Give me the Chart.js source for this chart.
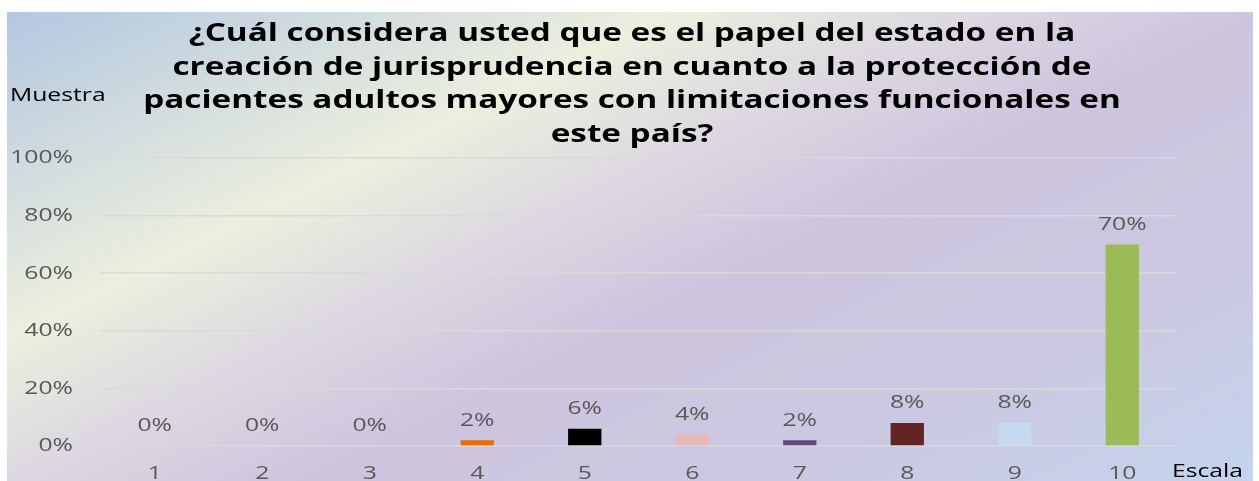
<!DOCTYPE html>
<html lang="es">
<head>
<meta charset="utf-8">
<title>Papel del estado en la creación de jurisprudencia</title>
<script src="https://cdn.jsdelivr.net/npm/chart.js@4/dist/chart.umd.min.js"></script>
<style>
  html, body { margin: 0; padding: 0; background: #ffffff; }
  #wrap { position: absolute; left: 7px; top: 12px; width: 1246px; height: 469px; }
  canvas { display: block; }
</style>
</head>
<body>
<div id="wrap"><canvas id="chart" width="1246" height="469"></canvas></div>
<script>
// Scale points 1-10 and the share of responses for each
const categories = ['1', '2', '3', '4', '5', '6', '7', '8', '9', '10'];
const shares = [0, 0, 0, 2, 6, 4, 2, 8, 8, 70];
const barColors = ['#4f81bd', '#c0504d', '#9bbb59', '#e46c0a', '#000000', '#e6b9b8', '#604a7b', '#632523', '#c6d9f1', '#9bbb59'];
const yTicks = [0, 20, 40, 60, 80, 100];
const titleLines = [
  '¿Cuál considera usted que es el papel del estado en la',
  'creación de jurisprudencia en cuanto a la protección de',
  'pacientes adultos mayores con limitaciones funcionales en',
  'este país?'
];
const yAxisName = 'Muestra';
const xAxisName = 'Escala';

const FONT = '"Open Sans", "Liberation Sans", sans-serif';
const GREY = '#595959';
const WIDE = 1.3;   // the chart's lettering is set wide

// Draw text widened horizontally around its anchor point
function wideText(ctx, text, x, y, align, font, color, sx) {
  ctx.save();
  ctx.font = font;
  ctx.fillStyle = color;
  ctx.textAlign = align;
  ctx.textBaseline = 'middle';
  ctx.translate(x, y);
  ctx.scale(sx, 1);
  ctx.fillText(text, 0, 0);
  ctx.restore();
}

// Soft diagonal gradient behind the whole chart
const backdrop = {
  id: 'backdrop',
  beforeDraw(chart) {
    const { ctx, width, height } = chart;
    const g = ctx.createLinearGradient(0, 0, 427, 873);
    g.addColorStop(0.0, '#b3c7e1');
    g.addColorStop(0.30, '#ecefdd');
    g.addColorStop(0.44, '#dcd7e1');
    g.addColorStop(0.57, '#cec4de');
    g.addColorStop(0.80, '#cbc9e2');
    g.addColorStop(1.0, '#c4d4ec');
    ctx.save();
    ctx.fillStyle = g;
    ctx.fillRect(0, 0, width, height);
    ctx.restore();
  }
};

// Title, axis tick text, value labels and axis names
const lettering = {
  id: 'lettering',
  afterDatasetsDraw(chart) {
    const { ctx } = chart;
    const xs = chart.scales.x;
    const ys = chart.scales.y;
    const small = '19px ' + FONT;

    titleLines.forEach((line, i) => {
      wideText(ctx, line, 625, 22 + i * 33.5, 'center', 'bold 25px ' + FONT, '#000000', 1.33);
    });

    yTicks.forEach(v => {
      wideText(ctx, v + '%', 66, ys.getPixelForValue(v), 'right', small, GREY, WIDE);
    });
    categories.forEach((c, i) => {
      wideText(ctx, c, xs.getPixelForValue(i), 462, 'center', small, GREY, WIDE);
    });

    const meta = chart.getDatasetMeta(0);
    const values = chart.data.datasets[0].data;
    meta.data.forEach((bar, i) => {
      wideText(ctx, values[i] + '%', bar.x, bar.y - 20, 'center', small, GREY, WIDE);
    });

    wideText(ctx, yAxisName, 3, 84, 'left', small, '#000000', WIDE);
    wideText(ctx, xAxisName, 1165, 460, 'left', small, '#000000', WIDE);
  }
};

new Chart(document.getElementById('chart'), {
  type: 'bar',
  data: {
    labels: categories,
    datasets: [{
      data: shares,
      backgroundColor: barColors,
      borderWidth: 0,
      categoryPercentage: 1,
      barPercentage: 0.31
    }]
  },
  options: {
    responsive: false,
    animation: false,
    layout: { padding: { left: 0, right: 77, top: 146, bottom: 0 } },
    plugins: {
      legend: { display: false },
      tooltip: { enabled: false },
      title: { display: false }
    },
    scales: {
      x: {
        grid: { display: false },
        border: { display: false },
        ticks: { display: false },
        afterFit(scale) { scale.height = 35; }
      },
      y: {
        min: 0,
        max: 100,
        afterBuildTicks(scale) { scale.ticks = yTicks.map(v => ({ value: v })); },
        grid: { color: '#d9d9d9', lineWidth: 1.5, drawTicks: false },
        border: { display: false },
        ticks: { display: false },
        afterFit(scale) { scale.width = 94; }
      }
    }
  },
  plugins: [backdrop, lettering]
});
</script>
</body>
</html>
